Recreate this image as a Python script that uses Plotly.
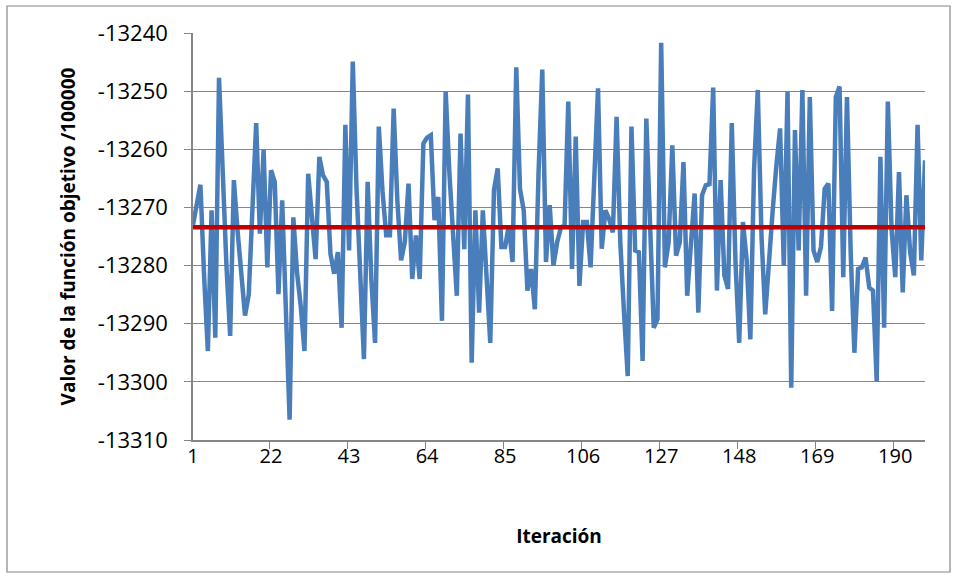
import plotly.graph_objects as go

valores = [
    -13273.0, -13269.5, -13266.1, -13282.0, -13294.7, -13270.5, -13292.4, -13247.7, -13265.2, -13280.0,
    -13292.1, -13265.3, -13274.1, -13282.1, -13288.6, -13285.0, -13267.9, -13255.5, -13274.5, -13260.1,
    -13280.3, -13263.6, -13265.6, -13284.9, -13268.8, -13286.0, -13306.5, -13271.7, -13281.2, -13287.0,
    -13294.7, -13264.2, -13271.5, -13278.9, -13261.3, -13264.5, -13265.6, -13278.0, -13281.4, -13277.7,
    -13290.7, -13255.8, -13277.4, -13244.9, -13266.6, -13283.7, -13296.1, -13265.6, -13282.4, -13293.3,
    -13256.1, -13267.2, -13274.8, -13274.8, -13253.0, -13268.9, -13279.1, -13276.0, -13265.9, -13282.3,
    -13274.8, -13282.3, -13259.0, -13258.0, -13257.6, -13272.2, -13268.2, -13289.5, -13250.1, -13264.1,
    -13275.2, -13285.2, -13257.3, -13277.2, -13250.6, -13296.7, -13270.5, -13288.1, -13270.5, -13281.0,
    -13293.3, -13267.0, -13263.3, -13276.8, -13276.8, -13273.1, -13279.4, -13245.9, -13266.8, -13270.5,
    -13284.3, -13280.6, -13287.5, -13264.0, -13246.3, -13279.4, -13269.6, -13280.0, -13276.0, -13273.5,
    -13273.1, -13251.8, -13280.6, -13257.8, -13283.5, -13272.5, -13272.5, -13280.3, -13264.0, -13249.5,
    -13277.1, -13270.5, -13272.0, -13274.3, -13254.4, -13276.0, -13288.2, -13299.0, -13256.1, -13277.4,
    -13277.7, -13296.4, -13254.7, -13272.5, -13290.7, -13289.2, -13241.7, -13280.3, -13276.0, -13259.3,
    -13278.3, -13276.0, -13262.2, -13285.2, -13276.0, -13267.6, -13288.1, -13267.9, -13266.2, -13266.0,
    -13249.4, -13284.3, -13265.3, -13281.7, -13284.0, -13255.5, -13279.5, -13293.3, -13272.5, -13279.0,
    -13292.7, -13263.4, -13249.8, -13275.0, -13288.4, -13278.4, -13270.6, -13262.8, -13256.4, -13280.0,
    -13250.1, -13301.0, -13256.7, -13277.4, -13249.8, -13285.2, -13251.0, -13277.4, -13279.4, -13276.8,
    -13266.8, -13265.9, -13287.8, -13251.0, -13249.2, -13282.0, -13251.0, -13277.8, -13295.0, -13280.6,
    -13280.3, -13278.6, -13283.8, -13284.3, -13299.9, -13261.3, -13290.7, -13251.8, -13273.8, -13282.0,
    -13263.9, -13284.6, -13267.9, -13277.7, -13281.7, -13255.8, -13279.1, -13261.9,
]
iteraciones = [str(i) for i in range(1, len(valores) + 1)]
media = -13273.4
media_serie = [media] * len(valores)

y_ticks = [-13240, -13250, -13260, -13270, -13280, -13290, -13300, -13310]
y_tick_text = ["-13240", "-13250", "-13260", "-13270", "-13280", "-13290", "-13300", "-13310"]

FONT = "Open Sans"
GRIS = "#868686"

fig = go.Figure()
fig.add_trace(go.Scatter(
    x=iteraciones, y=valores, mode="lines",
    line=dict(color="#4A7EBB", width=4.5), showlegend=False,
))
fig.add_trace(go.Scatter(
    x=iteraciones, y=media_serie, mode="lines",
    line=dict(color="#C00000", width=4.5), showlegend=False,
))

fig.update_layout(
    width=958, height=579,
    margin=dict(l=193, r=33, t=33, b=139, autoexpand=False),
    paper_bgcolor="white", plot_bgcolor="white",
    font=dict(family=FONT, color="black"),
    xaxis=dict(
        type="category", tickmode="linear", tick0=0, dtick=21,
        tickson="boundaries", ticks="outside", ticklen=7, tickcolor=GRIS,
        showline=True, linecolor=GRIS, linewidth=1.5, tickangle=0,
        showgrid=False, tickfont=dict(size=20, family=FONT), automargin=False,
        ticklabelstandoff=-3,
        title=dict(text="<b>Iteración</b>", font=dict(size=19, family=FONT), standoff=62),
    ),
    yaxis=dict(
        range=[-13310, -13240], tickmode="array", tickvals=y_ticks, ticktext=y_tick_text,
        ticks="outside", ticklen=7, tickcolor=GRIS,
        showline=True, linecolor=GRIS, linewidth=1.5,
        showgrid=True, gridcolor=GRIS, gridwidth=1.2, automargin=False,
        zeroline=False, tickfont=dict(size=22, family=FONT),
        ticklabelstandoff=12,
        title=dict(text="<b>Valor de la función objetivo /100000</b>",
                   font=dict(size=19, family=FONT), standoff=17),
    ),
    shapes=[dict(
        type="rect", xref="paper", yref="paper",
        x0=-0.2541, x1=1.0342, y0=-0.3243, y1=1.0663,
        line=dict(color=GRIS, width=1.2), fillcolor="rgba(0,0,0,0)",
    )],
)

fig.write_html(
    "out.html",
    config={"displayModeBar": False},
    post_script="document.body.style.margin='0';document.body.style.padding='0';",
)
